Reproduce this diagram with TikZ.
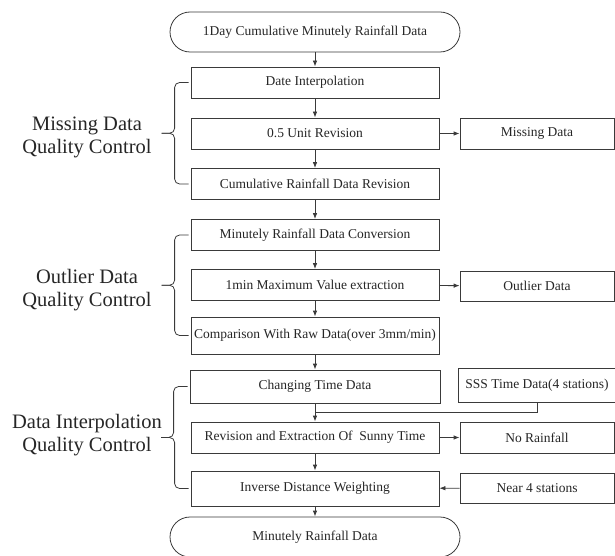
\documentclass[tikz,border=0pt]{standalone}
\usepackage{fontspec}
\setmainfont{Liberation Serif}
\usepackage{tikz}
\usetikzlibrary{positioning,calc,arrows.meta}

\definecolor{lineclr}{HTML}{3A3A3A}
\definecolor{textclr}{HTML}{262626}

% curly bracket from the left side of one box to the left side of another
\newcommand{\qcbrace}[2]{%
  \draw[rounded corners=5pt] ($(#1.west)+(-2,0)$) -- ++(-14,0) |- ($(#1.west)!.5!(#2.west)+(-29,0)$);
  \draw[rounded corners=5pt] ($(#2.west)+(-2,0)$) -- ++(-14,0) |- ($(#1.west)!.5!(#2.west)+(-29,0)$);}

\begin{document}
\begin{tikzpicture}
            [x=1pt,y=-1pt,line width=0.8pt,draw=lineclr,color=lineclr,text=textclr,
             >={Latex[length=6pt,width=4.5pt]},
             box/.style={draw, rectangle, fill=white, inner sep=0pt, minimum width=248pt, minimum height=31pt, font=\fontsize{13.5}{16}\selectfont},
             sidebox/.style={box, minimum width=154pt},
             term/.style={box, rounded corners=20pt, minimum width=290pt, minimum height=40pt},
             qclabel/.style={align=center, inner sep=0pt, font=\fontsize{20.5}{23}\selectfont}]
            \useasboundingbox (0,0) rectangle (615,556);

            \node[term] (start) at (315,32) {1Day Cumulative Minutely Rainfall Data};
            \node[box] (b1) at (315,82.5) {Date Interpolation};
            \node[box] (b2) at (315,133.5) {0.5 Unit Revision};
            \node[box] (b3) at (315,184) {Cumulative Rainfall Data Revision};
            \node[box] (b4) at (315,235) {Minutely Rainfall Data Conversion};
            \node[box] (b5) at (315,285) {1min Maximum Value extraction};
            \node[box, minimum height=37pt] (b6) at (315,335.5) {Comparison With Raw Data(over 3mm/min)};
            \node[box, minimum width=250pt, minimum height=33pt] (b7) at (315,386.5) {Changing Time Data};
            \node[box] (b8) at (315,437.5) {Revision and Extraction Of\ \ Sunny Time};
            \node[box, minimum height=35pt] (b9) at (315,488.5) {Inverse Distance Weighting};
            \node[term] (stop) at (315,537) {Minutely Rainfall Data};

            \node[sidebox] (miss) at (537,133.5) {Missing Data};
            \node[sidebox, minimum height=30pt] (outl) at (537,286) {Outlier Data};
            \node[sidebox, minimum width=158pt, minimum height=34pt] (sss) at (537,385) {SSS Time Data(4 stations)};
            \node[sidebox] (norain) at (537,437.5) {No Rainfall};
            \node[sidebox, minimum height=30pt] (near) at (537,488) {Near 4 stations};

            \node[qclabel] (lblmiss) at (87,137) {Missing Data\\Quality Control};
            \node[qclabel] (lblout) at (87,290) {Outlier Data\\Quality Control};
            \node[qclabel] (lblint) at (87,435) {Data Interpolation\\Quality Control};

            \foreach \from/\to in {start/b1, b1/b2, b2/b3, b3/b4, b4/b5, b5/b6, b6/b7, b7/b8, b8/b9, b9/stop,
                                   b2/miss, b5/outl, b8/norain, near/b9}
            \draw[->] (\from) -- (\to);

            \coordinate (join) at ($(b7.south)!.5!(b8.north)$);
            \draw (sss.south) |- (join);

            \qcbrace{b1}{b3}
            \qcbrace{b4}{b6}
            \qcbrace{b7}{b9}
          \end{tikzpicture}
\end{document}
